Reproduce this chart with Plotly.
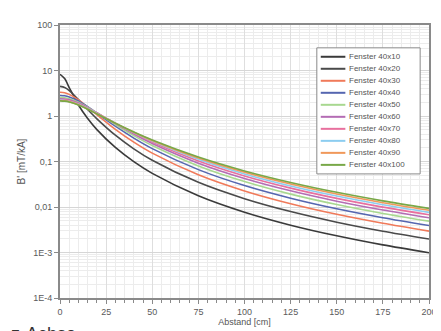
import plotly.graph_objects as go

# Abstand [cm]
abstand = [0, 2.5, 5, 10, 15, 20, 30, 40, 50, 75, 100, 125, 150, 175, 200]

# B' [mT/kA] je Fenster
b_40x10 = [8.24, 6.64, 4.22, 1.746, 0.878, 0.502, 0.2033, 0.0991, 0.0548, 0.01764, 0.00768, 0.00399, 0.00233, 0.00147, 0.00099]
b_40x20 = [4.47, 4.22, 3.62, 2.286, 1.389, 0.867, 0.378, 0.190, 0.1065, 0.0348, 0.01524, 0.00794, 0.00464, 0.00294, 0.00198]
b_40x30 = [3.33, 3.24, 2.99, 2.262, 1.574, 1.068, 0.510, 0.2666, 0.1528, 0.0511, 0.02258, 0.01181, 0.00692, 0.00439, 0.00295]
b_40x40 = [2.83, 2.78, 2.62, 2.133, 1.599, 1.155, 0.597, 0.3266, 0.1921, 0.0663, 0.0296, 0.0156, 0.00915, 0.00582, 0.00392]
b_40x50 = [2.56, 2.52, 2.40, 2.015, 1.570, 1.179, 0.650, 0.3706, 0.2240, 0.0799, 0.0363, 0.0192, 0.01133, 0.00722, 0.00488]
b_40x60 = [2.40, 2.37, 2.26, 1.924, 1.530, 1.175, 0.678, 0.4011, 0.2488, 0.0921, 0.0424, 0.0227, 0.01344, 0.00859, 0.00581]
b_40x70 = [2.30, 2.27, 2.17, 1.857, 1.491, 1.160, 0.691, 0.4211, 0.2674, 0.1026, 0.0481, 0.0260, 0.01547, 0.00992, 0.00673]
b_40x80 = [2.24, 2.20, 2.11, 1.807, 1.457, 1.143, 0.695, 0.4333, 0.2808, 0.1116, 0.0533, 0.0290, 0.01741, 0.01121, 0.00762]
b_40x90 = [2.19, 2.16, 2.07, 1.770, 1.430, 1.126, 0.694, 0.4404, 0.2903, 0.1190, 0.0579, 0.0319, 0.01925, 0.01245, 0.00849]
b_40x100 = [2.15, 2.12, 2.03, 1.742, 1.408, 1.111, 0.690, 0.4437, 0.2966, 0.1252, 0.0620, 0.0346, 0.0210, 0.01364, 0.00932]

namen = ["Fenster 40x10", "Fenster 40x20", "Fenster 40x30", "Fenster 40x40", "Fenster 40x50",
         "Fenster 40x60", "Fenster 40x70", "Fenster 40x80", "Fenster 40x90", "Fenster 40x100"]
reihen = [b_40x10, b_40x20, b_40x30, b_40x40, b_40x50, b_40x60, b_40x70, b_40x80, b_40x90, b_40x100]
farben = ["#3a3a3a", "#4a4a4a", "#f07a5a", "#5566b0", "#a8d890",
          "#b46cb4", "#e8709e", "#8ccdf0", "#f0985a", "#78a848"]

y_ticks = [1e-4, 1e-3, 1e-2, 1e-1, 1, 10, 100]
y_ticktext = ["1E-4", "1E-3", "0,01", "0,1", "1", "10", "100"]

schrift = "Liberation Sans, Arial"

# Plotbereich in Pixeln (fuer die eigene Legende)
L, R, T, B = 52, 14, 15, 41
W, H = 441, 331
pw, ph = W - L - R, H - T - B


def px(x):
    return (x - L) / pw


def py(y):
    return (H - B - y) / ph


fig = go.Figure()
for name, werte, farbe in zip(namen, reihen, farben):
    fig.add_trace(go.Scatter(
        x=abstand, y=werte, mode="lines", name=name,
        line=dict(color=farbe, width=1.6, shape="spline", smoothing=0.8)
    ))

fig.update_layout(
    width=W, height=H,
    margin=dict(l=L, r=R, t=T, b=B),
    paper_bgcolor="white", plot_bgcolor="white",
    font=dict(family=schrift, size=9, color="#5a5a5a"),
    showlegend=False,
    xaxis=dict(
        range=[0, 200], tickvals=[0, 25, 50, 75, 100, 125, 150, 175, 200],
        showline=True, linecolor="#8a8a8a", linewidth=2, mirror=True,
        ticks="outside", ticklen=4, tickcolor="#8a8a8a",
        showgrid=True, gridcolor="#dedede", gridwidth=1,
        minor=dict(dtick=5, showgrid=True, gridcolor="#ececec", ticks="outside", ticklen=3, tickcolor="#8a8a8a"),
        zeroline=False,
        title=dict(text="Abstand [cm]", standoff=0, font=dict(size=9, color="#555555")),
    ),
    yaxis=dict(
        type="log", range=[-4, 2], tickvals=y_ticks, ticktext=y_ticktext,
        showline=True, linecolor="#8a8a8a", linewidth=2, mirror=True,
        ticks="outside", ticklen=4, tickcolor="#8a8a8a",
        showgrid=True, gridcolor="#d6d6d6", gridwidth=1,
        minor=dict(dtick="D1", showgrid=True, gridcolor="#ececec", ticks=""),
        zeroline=False,
        title=dict(text="B' [mT/kA]", standoff=6, font=dict(size=10, color="#555555")),
    ),
)

# Legende als Kasten mit Linien und Texten (Zeilenabstand wie im Original)
fig.add_shape(type="rect", xref="paper", yref="paper",
              x0=px(313), x1=px(418), y0=py(165), y1=py(38),
              line=dict(color="#8a8a8a", width=1), fillcolor="white", layer="above")
for i, (name, farbe) in enumerate(zip(namen, farben)):
    yy = py(47 + i * 12.1)
    fig.add_shape(type="line", xref="paper", yref="paper",
                  x0=px(317), x1=px(342), y0=yy, y1=yy,
                  line=dict(color=farbe, width=2), layer="above")
    fig.add_annotation(text=name, xref="paper", yref="paper", x=px(344), y=yy,
                       xanchor="left", yanchor="middle", showarrow=False,
                       font=dict(size=8, color="#555555"))

fig.add_annotation(
    text="z-Achse", xref="paper", yref="paper", x=-0.139, y=-0.088,
    xanchor="left", yanchor="top", showarrow=False,
    font=dict(family="Liberation Sans, Arial", size=18, color="#333333"),
)

fig.write_html("out.html")
